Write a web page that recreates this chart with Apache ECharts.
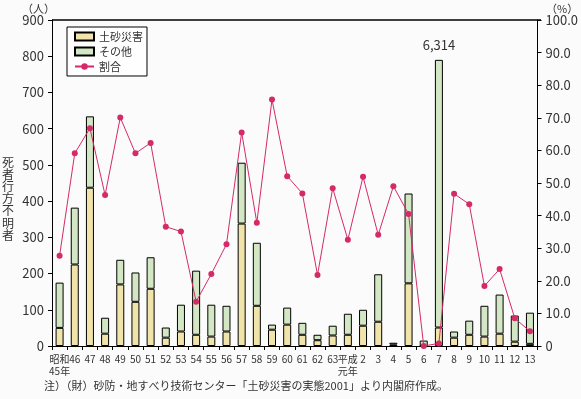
<!DOCTYPE html>
<html>
<head>
<meta charset="utf-8">
<script src="https://cdn.jsdelivr.net/npm/echarts@6/dist/echarts.min.js"></script>
<style>
html, body { margin: 0; padding: 0; background: #fbfbfb; }
#main { width: 581px; height: 399px; }
</style>
</head>
<body>
<div id="main"></div>
<script>
// 年次（昭和45年〜平成13年）
var years = ['昭和\n45年', '46', '47', '48', '49', '50', '51', '52', '53', '54', '55', '56', '57', '58', '59', '60', '61', '62', '63',
	'平成\n元年', '2', '3', '4', '5', '6', '7', '8', '9', '10', '11', '12', '13'];
// 土砂災害による死者行方不明者（人）
var sabo = [50, 225, 437, 34, 170, 122, 158, 23, 40, 31, 26, 40, 338, 111, 45, 59, 31, 16, 29,
	31, 56, 67, 4, 173, 0, 51, 23, 31, 26, 34, 12, 6];
// その他（人）※平成7年は途中で切って描画
var other = [125, 157, 197, 44, 68, 81, 87, 28, 74, 177, 88, 71, 168, 174, 14, 47, 33, 15, 27,
	58, 44, 131, 5, 248, 15, 739, 17, 39, 85, 108, 72, 86];
// 割合（%）
var ratio = [27.7, 59.1, 66.8, 46.3, 70.1, 59.1, 62.3, 36.6, 35.1, 13.6, 22.1, 31.2, 65.5, 37.8, 75.6, 52.1, 46.8, 21.8, 48.4,
	32.6, 51.9, 34.1, 49.0, 40.5, 0, 0.8, 46.7, 43.5, 18.4, 23.6, 8.5, 4.5];
// 棒の上に付ける注記
var barNotes = { 25: '6,314' };

var font = '"Noto Sans CJK JP", "Noto Sans", sans-serif';
var txt = '#333';

var myChart = echarts.init(document.getElementById('main'));
var option = {
	backgroundColor: '#fbfbfb',
	textStyle: { fontFamily: font },
	grid: { left: 52, right: 40, top: 20, bottom: 53 },
	legend: {
		orient: 'vertical',
		left: 67,
		top: 27,
		padding: [4, 4, 4, 7],
		itemGap: 4,
		itemWidth: 19,
		itemHeight: 8,
		backgroundColor: '#fdfefd',
		borderColor: '#000',
		borderWidth: 1,
		borderRadius: 0,
		textStyle: { fontSize: 11, color: txt, fontFamily: font },
		data: [
			{ name: '土砂災害', icon: 'rect' },
			{ name: 'その他', icon: 'rect' },
			{ name: '割合' }
		]
	},
	xAxis: {
		type: 'category',
		data: years,
		axisLine: { show: true, lineStyle: { color: '#000', width: 1 } },
		axisTick: { show: true, length: 4, lineStyle: { color: '#000' } },
		axisLabel: { fontSize: 10, color: txt, margin: 7, interval: 0, lineHeight: 12, verticalAlign: 'top' }
	},
	yAxis: [{
		type: 'value',
		min: 0,
		max: 900,
		interval: 100,
		position: 'left',
		axisLine: { show: true, lineStyle: { color: '#000' } },
		axisTick: { show: true, length: 4, lineStyle: { color: '#000' } },
		axisLabel: { fontSize: 13, color: txt, margin: 8 },
		splitLine: { show: false }
	}, {
		type: 'value',
		min: 0,
		max: 100,
		interval: 10,
		position: 'right',
		axisLine: { show: true, lineStyle: { color: '#000' } },
		axisTick: { show: true, length: 4, lineStyle: { color: '#000' } },
		axisLabel: {
			fontSize: 13, color: txt, margin: 8,
			formatter: function (v) { return v === 0 ? '0' : v.toFixed(1); }
		},
		splitLine: { show: false }
	}],
	series: [{
		name: '土砂災害',
		type: 'bar',
		stack: 'total',
		barWidth: 8,
		data: sabo,
		itemStyle: { color: '#f0e4aa', borderColor: '#000', borderWidth: 1 }
	}, {
		name: 'その他',
		type: 'bar',
		stack: 'total',
		barWidth: 8,
		data: other,
		itemStyle: { color: '#d3e7c4', borderColor: '#000', borderWidth: 1 },
		label: {
			show: true,
			position: 'top',
			distance: 8,
			fontSize: 13,
			color: txt,
			formatter: function (p) { return barNotes[p.dataIndex] || ''; }
		}
	}, {
		name: '割合',
		type: 'line',
		yAxisIndex: 1,
		data: ratio,
		symbol: 'circle',
		symbolSize: 6,
		lineStyle: { color: '#d42a68', width: 1 },
		itemStyle: { color: '#d42a68' },
		z: 5
	}],
	graphic: [{
		// 上辺の枠線
		type: 'rect',
		shape: { x: 52, y: 20, width: 489, height: 0 },
		style: { stroke: '#000', lineWidth: 1, fill: null }
	}, {
		type: 'text',
		left: 22, top: 3,
		style: { text: '（人）', font: '11px ' + font, fill: txt }
	}, {
		type: 'text',
		left: 546, top: 3,
		style: { text: '（%）', font: '11px ' + font, fill: txt }
	}, {
		type: 'text',
		left: 2, top: 156,
		style: { text: '死\n者\n行\n方\n不\n明\n者', font: '12px ' + font, fill: txt, lineHeight: 12.2 }
	}, {
		type: 'text',
		left: 44, top: 380,
		style: { text: '注）（財）砂防・地すべり技術センター「土砂災害の実態2001」より内閣府作成。', font: '11px ' + font, fill: txt }
	}]
};
myChart.setOption(option);
</script>
</body>
</html>
